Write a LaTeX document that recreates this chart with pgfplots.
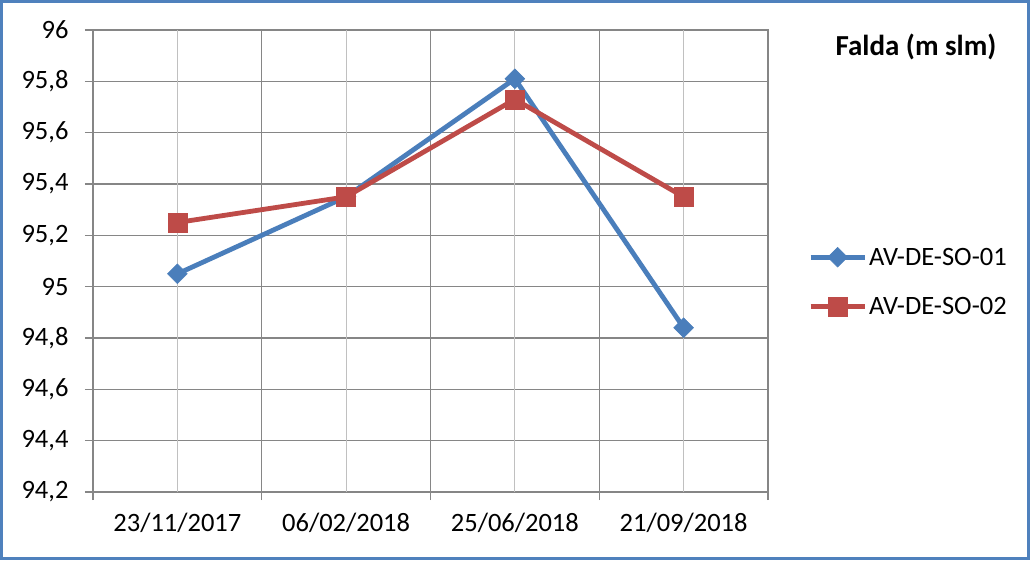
\documentclass[border=0pt]{standalone}
\usepackage{pgfplots}
\pgfplotsset{compat=1.18}
\usepackage{fontspec}
\setmainfont{Carlito}
\definecolor{serA}{HTML}{4A7EBB}
\definecolor{serB}{HTML}{BE4B48}
\definecolor{gridD}{HTML}{868686}
\definecolor{gridL}{HTML}{C0C0C0}
\definecolor{frameB}{HTML}{4F81BD}
\begin{document}
\begin{tikzpicture}
\useasboundingbox (-93pt,-68pt) rectangle (937pt,492pt);
\fill[white] (-93pt,-68pt) rectangle (937pt,492pt);
\draw[frameB, line width=2.2pt] (-91.5pt,-66.5pt) rectangle (935.5pt,490.5pt);
\begin{axis}[
  at={(0pt,0pt)}, anchor=south west,
  scale only axis, width=675pt, height=462pt,
  xmin=-0.5, xmax=3.5, ymin=94.2, ymax=96,
  xtick={-0.5,0.5,1.5,2.5,3.5}, xticklabels={,,,,,},
  ytick={94.2,94.4,94.6,94.8,95,95.2,95.4,95.6,95.8,96},
  xtick pos=left, ytick pos=left,
  /pgf/number format/use comma,
  /pgf/number format/fixed,
  /pgf/number format/precision=1,
  /pgf/number format/assume math mode=true,
  ticklabel style={font=\fontsize{26.5}{31}\selectfont},
  tick align=outside, major tick length=8pt,
  tick style={gridD, line width=1.2pt},
  axis line style={gridD, line width=1.2pt},
  xmajorgrids, ymajorgrids,
  major grid style={gridD, line width=1.2pt},
  extra x ticks={0,1,2,3},
  extra x tick labels={23/11/2017,06/02/2018,25/06/2018,21/09/2018},
  extra x tick style={major tick length=0pt, grid=major, major grid style={gridL, line width=1.2pt}, xticklabel style={yshift=-18pt}},
  yticklabel style={xshift=-13pt},
  legend style={draw=none, fill=none, at={(1.0593,0.4545)}, anchor=west,
    font=\fontsize{26.5}{31}\selectfont, row sep=27pt, inner sep=0pt,
    nodes={inner sep=2pt}},
  legend cell align=left,
  legend image code/.code={\draw[mark repeat=2,mark phase=2,#1] plot coordinates {(0pt,0pt)(27pt,0pt)(54pt,0pt)};},
  clip=false,
]
\addplot[serA, line width=4.8pt, mark=square*, mark size=7pt,
  mark options={rotate=45, line width=0.5pt, fill=serA}]
  coordinates {(0,95.05) (1,95.35) (2,95.81) (3,94.84)};
\addlegendentry{AV-DE-SO-01}
\addplot[serB, line width=4.8pt, mark=square*, mark size=9.5pt,
  mark options={line width=0.5pt, fill=serB}]
  coordinates {(0,95.25) (1,95.35) (2,95.73) (3,95.35)};
\addlegendentry{AV-DE-SO-02}
\end{axis}
\node[font=\bfseries\fontsize{29}{34}\selectfont] at (823pt,445pt) {Falda (m slm)};
\end{tikzpicture}
\end{document}
